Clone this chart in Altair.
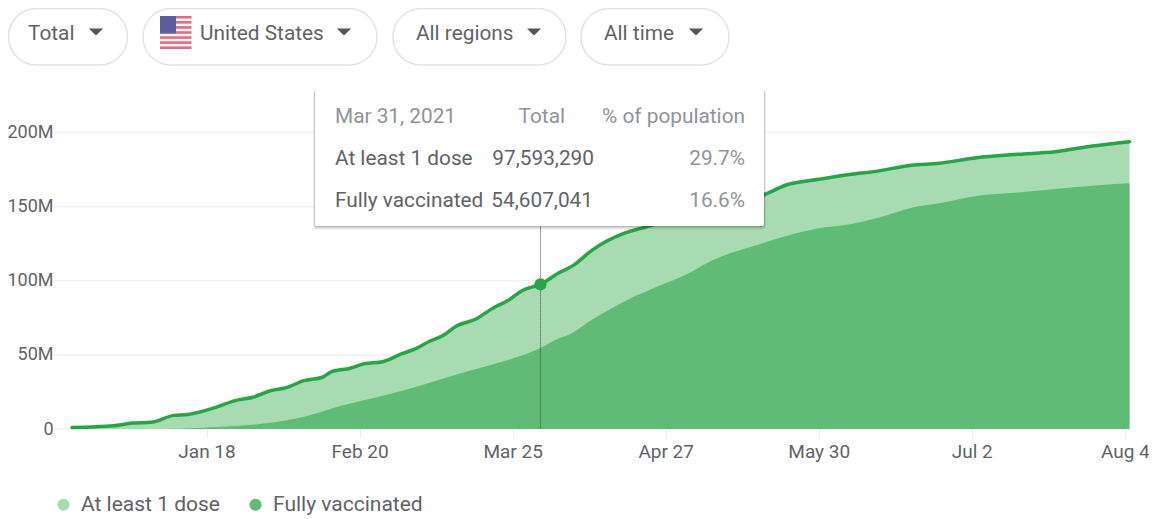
import altair as alt
import pandas as pd

FONT = "Roboto"
TXT = "#5f6368"
TXT_LIGHT = "#8f9499"
SIZE = 20.8

dose_dates = ["2020-12-20","2020-12-29","2021-01-02","2021-01-06","2021-01-11","2021-01-14","2021-01-20",
    "2021-01-24","2021-01-28","2021-02-01","2021-02-04","2021-02-08","2021-02-12","2021-02-14","2021-02-18",
    "2021-02-21","2021-02-25","2021-03-01","2021-03-04","2021-03-07","2021-03-10","2021-03-13","2021-03-17",
    "2021-03-21","2021-03-24","2021-03-27","2021-03-31","2021-04-04","2021-04-07","2021-04-11","2021-04-14",
    "2021-04-18","2021-04-23","2021-04-28","2021-05-03","2021-05-08","2021-05-13","2021-05-18","2021-05-23",
    "2021-05-30","2021-06-06","2021-06-11","2021-06-19","2021-06-25","2021-07-03","2021-07-12","2021-07-20",
    "2021-07-28","2021-08-05"]
dose_values = [1.0,2.2,4.0,4.5,9.2,9.8,14.6,19.0,21.4,26.0,27.7,32.6,34.9,38.7,41.0,44.0,45.4,50.6,54.0,59.0,
    63.0,69.7,74.0,82.0,86.6,93.3,97.6,105.4,110.2,120.3,126.3,132.0,136.5,141.0,146.0,150.0,154.0,157.8,164.6,
    168.4,171.8,173.6,177.9,179.2,183.0,185.3,187.0,190.9,193.8]

full_dates = ["2021-01-04","2021-01-12","2021-01-23","2021-01-31","2021-02-08","2021-02-16","2021-02-25",
    "2021-03-05","2021-03-12","2021-03-21","2021-03-31","2021-04-04","2021-04-06","2021-04-11","2021-04-18",
    "2021-04-26","2021-05-02","2021-05-05","2021-05-09","2021-05-16","2021-05-23","2021-05-30","2021-06-06",
    "2021-06-12","2021-06-19","2021-06-25","2021-07-03","2021-07-12","2021-07-20","2021-07-28","2021-08-05"]
full_values = [0.0,0.2,1.8,3.8,8.3,15.7,22.5,29.2,36.0,43.8,54.6,61.2,63.4,73.5,85.9,97.1,105.0,110.5,116.3,
    123.4,130.2,135.4,138.3,142.6,149.3,152.2,157.2,159.6,161.9,164.1,165.7]

x_tick_dates = ["2021-01-18","2021-02-20","2021-03-25","2021-04-27","2021-05-30","2021-07-02","2021-08-04"]
y_ticks = [0, 50, 100, 150, 200]
series_names = ["At least 1 dose", "Fully vaccinated"]
series_colors = ["#a9dbb2", "#5fbb75"]
line_color = "#26a546"
hover_date = "2021-03-31"
hover_value = 97.6


def t(d):
    return d + "T00:00:00"


dose_df = pd.DataFrame({"date": [t(d) for d in dose_dates], "v": [v * 1e6 for v in dose_values], "series": series_names[0]})
full_df = pd.DataFrame({"date": [t(d) for d in full_dates], "v": [v * 1e6 for v in full_values], "series": series_names[1]})
grid_df = pd.DataFrame({"v": [v * 1e6 for v in y_ticks]})
hover_df = pd.DataFrame({"date": [t(hover_date)], "v": [hover_value * 1e6], "top": [150e6], "bottom": [0]})
one = pd.DataFrame({"a": [0]})

W, H = 1141, 509
xscale = alt.Scale(domain=[t("2020-12-20"), t("2021-08-05")], range=[64, 1121.5])
yscale = alt.Scale(domain=[0, 200e6], range=[421, 124.5], nice=False, zero=False)
xaxis = alt.Axis(values=[t(d) for d in x_tick_dates], format="%b %-d", title=None, grid=False, domain=False,
                 offset=421 - H, tickColor="#ececec", tickSize=9, tickWidth=1, labelFont=FONT, labelFontSize=19,
                 labelColor=TXT, labelPadding=4.5, labelOverlap=False, labelFlush=False, labelBound=False)
yaxis = alt.Axis(values=[v * 1e6 for v in y_ticks], title=None, grid=False, domain=False, ticks=False,
                 labelExpr="datum.value == 0 ? '0' : (datum.value / 1000000) + 'M'",
                 offset=-45, labelFont=FONT, labelFontSize=18, labelColor=TXT, labelPadding=0, labelOverlap=False,
                 labelBound=False, labelFlush=False)
X = alt.X("date:T", scale=xscale, axis=xaxis)
Y = alt.Y("v:Q", scale=yscale, axis=yaxis, stack=None)
color = alt.Color("series:N", title=None, scale=alt.Scale(domain=series_names, range=series_colors),
    legend=alt.Legend(orient="none", legendX=45, legendY=486, direction="horizontal", symbolType="circle",
                      symbolSize=150, symbolStrokeWidth=0, symbolOpacity=1, labelFont=FONT, labelFontSize=21, labelColor=TXT,
                      labelOffset=7, columnPadding=25, padding=0))


def px(v):
    return alt.value(v - 8)


def box(x0, x1, y0, y1, **kw):
    return alt.Chart(one).mark_rect(**kw).encode(x=px(x0), x2=px(x1), y=px(y0), y2=px(y1))


def label(text, x, y, align="left", col=TXT, size=SIZE):
    return alt.Chart(one).mark_text(text=text, align=align, baseline="middle", font=FONT, fontSize=size, color=col).encode(x=px(x), y=px(y + 1))


def arrow(x, y):
    return alt.Chart(one).mark_point(shape="M-1,-0.5L1,-0.5L0,0.5Z", size=200, filled=True, color="#555", opacity=1).encode(x=px(x), y=px(y))


layers = []
# grid
layers.append(alt.Chart(grid_df).mark_rule(color="#f2f2f2", strokeWidth=1.5).encode(y=Y, x=px(53), x2=px(1130)))
# areas
layers.append(alt.Chart(dose_df).mark_area(opacity=1, interpolate="monotone").encode(x=X, y=Y, color=color))
layers.append(alt.Chart(full_df).mark_area(opacity=1, interpolate="monotone").encode(x=X, y=Y, color=color))
layers.append(alt.Chart(dose_df).mark_line(color=line_color, strokeWidth=3.5, strokeCap="round", strokeJoin="round", interpolate="monotone").encode(x=X, y=Y))
# hover
layers.append(alt.Chart(hover_df).mark_rule(color="#444", strokeWidth=1, strokeDash=[1, 1]).encode(
    x=X, y=alt.Y("top:Q", scale=yscale, axis=yaxis), y2="bottom:Q"))
layers.append(alt.Chart(hover_df).mark_circle(color=line_color, size=150, opacity=1).encode(x=X, y=Y))

# tooltip
for i, (op, d) in enumerate([(0.04, 4), (0.06, 3), (0.08, 2), (0.1, 1)]):
    layers.append(box(315 - d / 2, 764 + d / 2, 90, 226 + d, color="#000", opacity=op, cornerRadius=3))
layers.append(box(315, 764, 90, 226, color="white", cornerRadius=2))
layers += [
    label("Mar 31, 2021", 335, 116, col=TXT_LIGHT),
    label("Total", 565, 116, "right", TXT_LIGHT),
    label("% of population", 745, 116, "right", TXT_LIGHT),
    label("At least 1 dose", 335, 158),
    label("97,593,290", 594, 158, "right"),
    label("29.7%", 745, 158, "right", TXT_LIGHT),
    label("Fully vaccinated", 335, 200),
    label("54,607,041", 593, 200, "right"),
    label("16.6%", 745, 200, "right", TXT_LIGHT),
]

# filter chips
for x0, x1 in [(8.5, 127.5), (143, 377), (393, 566), (581, 729)]:
    layers.append(box(x0, x1, 8.5, 65, color="white", stroke="#e3e3e3", strokeWidth=1.5, cornerRadius=28))
layers += [
    label("Total", 28, 33), arrow(96, 32),
    label("United States", 200, 33), arrow(344, 32),
    label("All regions", 416, 33), arrow(534, 32),
    label("All time", 604, 33), arrow(696, 32),
]

# flag
layers.append(box(160, 191.5, 16, 49, color="#f3f0f1", cornerRadius=2))
for i in range(0, 13, 2):
    y0 = 16 + i * 33 / 13
    layers.append(box(160, 191.5, y0, y0 + 33 / 13, color="#d96f80"))
layers.append(box(160, 176, 16, 33.5, color="#5c5e9f"))

chart = alt.layer(*layers).properties(
    width=W, height=H, padding=0, autosize=alt.AutoSizeParams(type="none", contains="content")
).configure(background="white").configure_view(strokeWidth=0, strokeOpacity=0)

chart.save("out.html", embed_options={"renderer": "svg", "actions": False})
